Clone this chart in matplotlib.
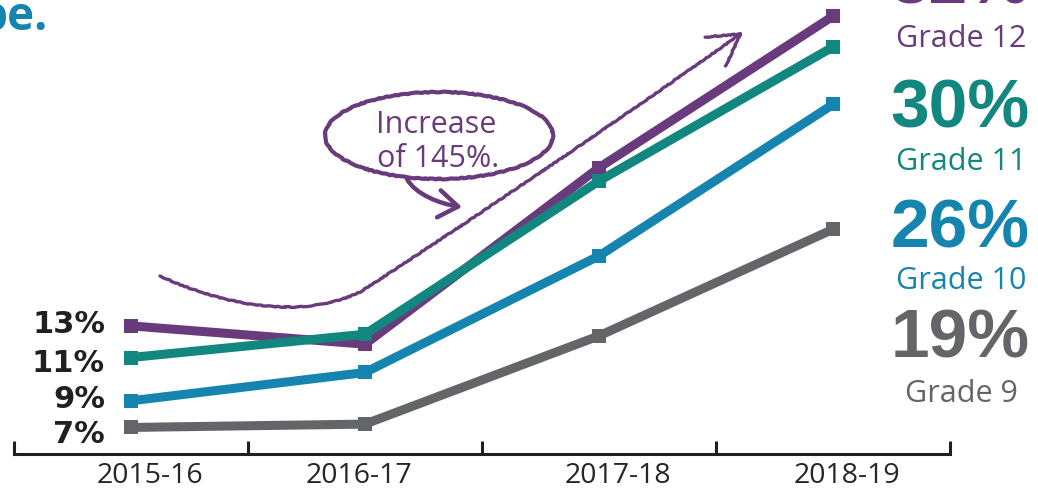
import matplotlib
matplotlib.use('Agg')
import matplotlib.pyplot as plt
from matplotlib.path import Path
from matplotlib.patches import FancyArrowPatch, Ellipse
from matplotlib.transforms import ScaledTranslation

# data (% of students)
years = ['2015-16', '2016-17', '2017-18', '2018-19']
grade12 = [13.1, 12.0, 22.6, 31.7]
grade11 = [11.2, 12.6, 21.8, 29.85]
grade10 = [8.6, 10.3, 17.3, 26.4]
grade9 = [7.0, 7.2, 12.5, 18.9]
grade_names = ['Grade 12', 'Grade 11', 'Grade 10', 'Grade 9']

purple = '#6a3b7c'
teal = '#11877f'
blue = '#1584ae'
gray = '#646569'
dark = '#231f20'

W, H = 1038, 489
fig = plt.figure(figsize=(W / 100, H / 100), dpi=100)
ax = fig.add_axes([14 / W, (H - 455) / H, 936 / W, 455 / H])

def fx(px):
    return px / W

def fy(py):
    return 1 - py / H

series = [grade12, grade11, grade10, grade9]
colors = [purple, teal, blue, gray]
for vals, c in zip(series, colors):
    ax.plot(range(len(years)), vals, color=c, lw=6.5, marker='s', ms=10.5,
            mew=0, solid_joinstyle='miter', clip_on=False)

ax.set_xlim(-0.5, 3.5)
ax.set_ylim(5.405, 32.73)
ax.set_yticks([])
for s in ['left', 'right', 'top']:
    ax.spines[s].set_visible(False)
ax.spines['bottom'].set_linewidth(2.2)
ax.spines['bottom'].set_color(dark)

ax.set_xticks(range(len(years)), years, fontsize=20.5, family='Open Sans', color='#262626')
ax.set_xticks([i - 0.5 for i in range(len(years) + 1)], minor=True)
ax.tick_params(axis='x', which='major', length=0, pad=5)
ax.tick_params(axis='x', which='minor', direction='in', length=9.5, width=2.2, color=dark)
# labels are not exactly centred under the points
for lab, dx in zip(ax.get_xticklabels(), [19, -6, 19, 14]):
    lab.set_transform(lab.get_transform() + ScaledTranslation(dx / 100, 0, fig.dpi_scale_trans))

# start values on the left
for vals, yb in zip(series, [333, 372, 408, 443]):
    fig.text(fx(105), fy(yb), f'{vals[0]:.0f}%', ha='right', va='baseline',
             fontsize=22, family='DejaVu Sans', weight='bold', color=dark)

# end values + grade names on the right
pct_base = [4, 127, 248, 358]
name_base = [47, 170, 289, 402]
for vals, name, c, yp, yn in zip(series, grade_names, colors, pct_base, name_base):
    fig.text(fx(960), fy(yp), f'{vals[-1]:.0f}%', ha='center', va='baseline',
             fontsize=50, family='Liberation Sans', weight='bold', color=c)
    fig.text(fx(961), fy(yn), name, ha='center', va='baseline',
             fontsize=22, family='Open Sans', color=c)

# cut off title at the top left
fig.text(fx(48), fy(30), 'pe.', ha='right', va='baseline', fontsize=33,
         family='Open Sans', weight='bold', color=blue)

# hand drawn arrow and callout
curve = [(160, 277), (220, 305), (300, 322), (360, 293), (420, 255), (600, 135), (743, 33)]
codes = [Path.MOVETO] + [Path.CURVE4] * 6
big = FancyArrowPatch(path=Path([(fx(x), fy(y)) for x, y in curve], codes),
                      arrowstyle='->,head_length=0.55,head_width=0.32', mutation_scale=40,
                      lw=2.4, color=purple, transform=fig.transFigure)
big.set_sketch_params(scale=0.4, length=15, randomness=8)
fig.add_artist(big)

tail = [(407, 180), (415, 195), (440, 205), (462, 208)]
small = FancyArrowPatch(path=Path([(fx(x), fy(y)) for x, y in tail],
                                  [Path.MOVETO, Path.CURVE4, Path.CURVE4, Path.CURVE4]),
                        arrowstyle='->,head_length=0.5,head_width=0.35', mutation_scale=28,
                        lw=3.2, color=purple, transform=fig.transFigure)
fig.add_artist(small)

bubble = Ellipse((fx(439), fy(136.5)), 228 / W, 87 / H, transform=fig.transFigure,
                 fill=False, ec=purple, lw=3)
bubble.set_sketch_params(scale=0.4, length=20, randomness=8)
fig.add_artist(bubble)
fig.text(fx(436), fy(133), 'Increase', ha='center', va='baseline', fontsize=22,
         family='Open Sans', color=purple)
fig.text(fx(438), fy(167), 'of 145%.', ha='center', va='baseline', fontsize=22,
         family='Open Sans', color=purple)

fig.savefig('out.png', dpi=100)
